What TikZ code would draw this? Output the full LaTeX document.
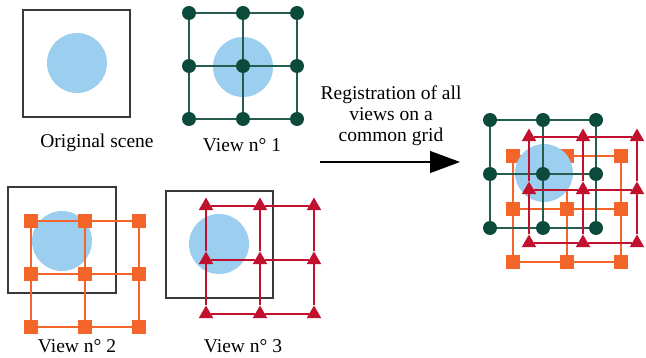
\documentclass[tikz,border=0pt]{standalone}
\usepackage{fontspec}
\setmainfont{Liberation Serif}
\definecolor{DeepPine}{HTML}{0C4B3C}
\definecolor{EmberOrange}{HTML}{F4652A}
\definecolor{CrimsonRed}{HTML}{C2112F}
\definecolor{SkyLight}{HTML}{9CCFEF}
\definecolor{FrameGrey}{HTML}{3A3A3A}
\usetikzlibrary{arrows.meta,shapes.geometric}

\begin{document}
\begin{tikzpicture}[x=1pt,y=-1pt,
  frame/.style={draw=FrameGrey, line width=1.3pt},
  blob/.style={fill=SkyLight},
  gdot/.style={circle, fill=DeepPine, inner sep=0pt, minimum size=14pt},
  gline/.style={draw=DeepPine!90, line width=2pt},
  osq/.style={rectangle, fill=EmberOrange, inner sep=0pt, minimum size=14pt},
  oline/.style={draw=EmberOrange, line width=1.8pt},
  rtri/.style={regular polygon, regular polygon sides=3, fill=CrimsonRed, inner sep=0pt, minimum size=17pt, yshift=-3pt},
  rline/.style={draw=CrimsonRed, line width=1.8pt},
  caption/.style={font=\fontsize{19.5}{21}\selectfont, inner sep=0pt}]
  \useasboundingbox (0,0) rectangle (646,358);

  % scene and views
  \draw[frame] (23,10) rectangle (130,117);
  \fill[blob] (77,63) circle (30);
  \fill[blob] (243,67) circle (30);
  \draw[frame] (8,187) rectangle (116,293);
  \fill[blob] (62,241) circle (30);
  \draw[frame] (166,191) rectangle (273,298);
  \fill[blob] (219,244) circle (30);

  % grids: name/node style/line style/left/top/step x/step y
  \foreach \g/\ns/\ls/\xo/\yo/\sx/\sy in {va/gdot/gline/189/13/54/53,
      vb/osq/oline/31/221/54/53, vc/rtri/rline/206/203/54/54,
      co/osq/oline/513/156/54/53, cg/gdot/gline/490/120/53/54,
      cr/rtri/rline/529/134/54/53} {
    \foreach \i in {0,1,2}
      \foreach \j in {0,1,2}
        \node[\ns] (\g-\i-\j) at ({\xo+\i*\sx},{\yo+\j*\sy}) {};
    \foreach \i in {0,1,2}
      \foreach \j/\k in {0/1,1/2} {
        \draw[\ls] (\g-\i-\j) -- (\g-\i-\k);
        \draw[\ls] (\g-\j-\i) -- (\g-\k-\i);
      }
    % common grid: the scene sits above the orange view
    \ifnum\pdfstrcmp{\g}{co}=0 \fill[blob] (544,173) circle (29); \fi
  }

  % labels
  \node[caption, anchor=base] (lbl-orig) at (97,148) {Original scene};
  \node[caption, anchor=base] (lbl-v1) at (242,152) {View n° 1};
  \node[caption, anchor=base] (lbl-v2) at (77,353) {View n° 2};
  \node[caption, anchor=base] (lbl-v3) at (243,353) {View n° 3};
  \node[caption, anchor=north, align=center] (lbl-reg) at (391,86)
    {Registration of all\\views on a\\common grid};

  \coordinate (arr-start) at (320,162);
  \coordinate (arr-end) at (460,162);
  \draw[line width=1.1pt, -{Triangle[length=30pt,width=22pt]}] (arr-start) -- (arr-end);
\end{tikzpicture}
\end{document}
